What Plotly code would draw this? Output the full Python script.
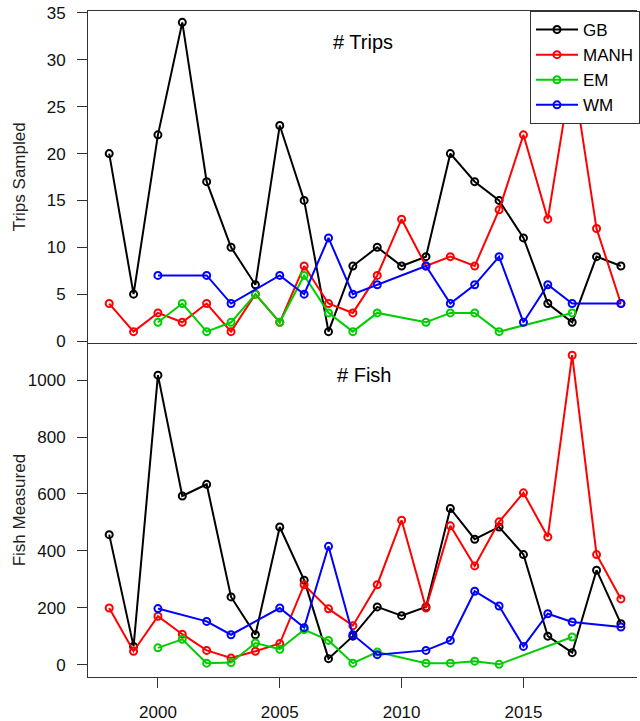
import plotly.graph_objects as go
from plotly.subplots import make_subplots

years = list(range(1998, 2020))

series_names = ["GB", "MANH", "EM", "WM"]
series_colors = ["#000000", "#FF0000", "#00CD00", "#0000FF"]

gb_trips = [20, 5, 22, 34, 17, 10, 6, 23, 15, 1, 8, 10, 8, 9, 20, 17, 15, 11, 4, 2, 9, 8]
manh_trips = [4, 1, 3, 2, 4, 1, 5, 2, 8, 4, 3, 7, 13, 8, 9, 8, 14, 22, 13, 29, 12, 4]
em_trips = [None, None, 2, 4, 1, 2, 5, 2, 7, 3, 1, 3, None, 2, 3, 3, 1, None, None, 3, None, None]
wm_trips = [None, None, 7, None, 7, 4, None, 7, 5, 11, 5, 6, None, 8, 4, 6, 9, 2, 6, 4, None, 4]

gb_fish = [457, 64, 1018, 593, 634, 238, 105, 484, 297, 21, 100, 203, 172, 203, 549, 441, 484, 387, 100, 42, 332, 144]
manh_fish = [199, 47, 170, 107, 50, 23, 47, 74, 281, 196, 137, 281, 508, 199, 488, 347, 502, 604, 449, 1088, 387, 231]
em_fish = [None, None, 59, 89, 5, 7, 76, 54, 123, 85, 5, 44, None, 5, 5, 12, 1, None, None, 97, None, None]
wm_fish = [None, None, 197, None, 152, 105, None, 199, 130, 416, 105, 35, None, 50, 85, 258, 206, 64, 179, 150, None, 132]

trips = [gb_trips, manh_trips, em_trips, wm_trips]
fish = [gb_fish, manh_fish, em_fish, wm_fish]

x_ticks = [2000, 2005, 2010, 2015]
trips_ticks = [0, 5, 10, 15, 20, 25, 30, 35]
fish_ticks = [0, 200, 400, 600, 800, 1000]

FONT = "Arial, 'Liberation Sans', sans-serif"

fig = make_subplots(rows=2, cols=1, shared_xaxes=True, vertical_spacing=0)

for name, color, t in zip(series_names, series_colors, trips):
    fig.add_trace(go.Scatter(
        x=years, y=t, name=name, mode="lines+markers", connectgaps=True,
        line=dict(color=color, width=2),
        marker=dict(symbol="circle-open", size=7, color=color, line=dict(width=2, color=color)),
        showlegend=True), row=1, col=1)

for name, color, f in zip(series_names, series_colors, fish):
    fig.add_trace(go.Scatter(
        x=years, y=f, name=name, mode="lines+markers", connectgaps=True,
        line=dict(color=color, width=2),
        marker=dict(symbol="circle-open", size=7, color=color, line=dict(width=2, color=color)),
        showlegend=False), row=2, col=1)

axis_common = dict(showgrid=False, zeroline=False, showline=True, linecolor="#333333",
                   linewidth=1, ticks="outside", ticklen=10, tickcolor="#333333",
                   tickfont=dict(family=FONT, size=17, color="#111111"))

fig.update_xaxes(range=[1997.13, 2019.66], tickvals=x_ticks, **axis_common)
fig.update_xaxes(showticklabels=False, ticks="", mirror=True, row=1, col=1)
fig.update_xaxes(ticklabelstandoff=10, mirror=False, row=2, col=1)

fig.update_yaxes(range=[-0.21, 35.21], tickvals=trips_ticks, domain=[0.5015, 1.0],
                 ticklabelstandoff=8, row=1, col=1, **axis_common)
fig.update_yaxes(range=[-43.6, 1131], tickvals=fish_ticks, domain=[0.0, 0.5015],
                 ticklabelstandoff=8, row=2, col=1, **axis_common)

annotations = [
    dict(text="# Trips", x=0.5, y=0.9535, xref="paper", yref="paper", showarrow=False,
         xanchor="center", yanchor="middle", font=dict(family=FONT, size=20, color="#000000")),
    dict(text="# Fish", x=0.502, y=0.4535, xref="paper", yref="paper", showarrow=False,
         xanchor="center", yanchor="middle", font=dict(family=FONT, size=20, color="#000000")),
    dict(text="Trips Sampled", x=-0.1232, y=0.7508, xref="paper", yref="paper", showarrow=False,
         textangle=-90, xanchor="center", yanchor="middle",
         font=dict(family=FONT, size=17, color="#222222")),
    dict(text="Fish Measured", x=-0.1232, y=0.2508, xref="paper", yref="paper", showarrow=False,
         textangle=-90, xanchor="center", yanchor="middle",
         font=dict(family=FONT, size=17, color="#222222")),
]

fig.update_layout(
    width=640, height=721,
    margin=dict(l=88, r=0, t=11, b=44, pad=0),
    paper_bgcolor="white", plot_bgcolor="white",
    annotations=annotations,
    showlegend=True,
    legend=dict(x=0.8056, y=1.0, xanchor="left", yanchor="top",
                bgcolor="white", bordercolor="#333333", borderwidth=1,
                font=dict(family=FONT, size=17, color="#000000"),
                itemwidth=42, tracegroupgap=0),
)

fig.write_html("out.html", config={"displayModeBar": False},
               post_script="document.body.style.margin='0';document.body.style.overflow='hidden';")
